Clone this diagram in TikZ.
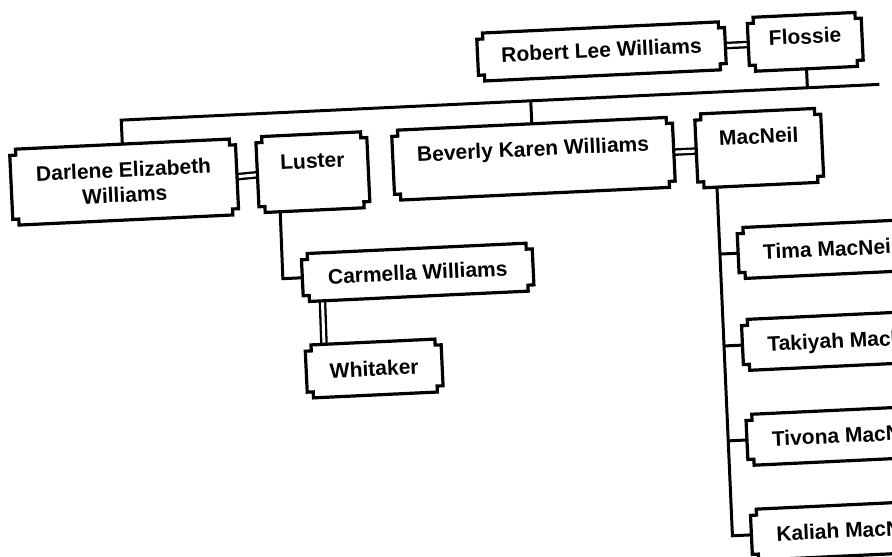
\documentclass[tikz,border=0pt]{standalone}
\usepackage{fontspec}
\setmainfont{Liberation Sans}
\usetikzlibrary{calc}
\pgfdeclarelayer{back}
\pgfsetlayers{back,main}
\newdimen\nbL \newdimen\nbR \newdimen\nbT \newdimen\nbB \newdimen\nbN
\makeatletter
\pgfdeclareshape{notchbox}{%
  \inheritsavedanchors[from=rectangle]%
  \inheritanchorborder[from=rectangle]%
  \inheritanchor[from=rectangle]{center}%
  \inheritanchor[from=rectangle]{north}%
  \inheritanchor[from=rectangle]{south}%
  \inheritanchor[from=rectangle]{east}%
  \inheritanchor[from=rectangle]{west}%
  \inheritanchor[from=rectangle]{north east}%
  \inheritanchor[from=rectangle]{north west}%
  \inheritanchor[from=rectangle]{south east}%
  \inheritanchor[from=rectangle]{south west}%
  \inheritanchor[from=rectangle]{base}%
  \inheritanchor[from=rectangle]{mid}%
  \inheritanchor[from=rectangle]{text}%
  \backgroundpath{%
    \southwest \nbL=\pgf@x \nbB=\pgf@y
    \northeast \nbR=\pgf@x \nbT=\pgf@y
    \nbN=6pt
    \pgfpathmoveto{\pgfqpoint{\dimexpr\nbL+\nbN\relax}{\nbT}}%
    \pgfpathlineto{\pgfqpoint{\dimexpr\nbR-\nbN\relax}{\nbT}}%
    \pgfpathlineto{\pgfqpoint{\dimexpr\nbR-\nbN\relax}{\dimexpr\nbT-\nbN\relax}}%
    \pgfpathlineto{\pgfqpoint{\nbR}{\dimexpr\nbT-\nbN\relax}}%
    \pgfpathlineto{\pgfqpoint{\nbR}{\dimexpr\nbB+\nbN\relax}}%
    \pgfpathlineto{\pgfqpoint{\dimexpr\nbR-\nbN\relax}{\dimexpr\nbB+\nbN\relax}}%
    \pgfpathlineto{\pgfqpoint{\dimexpr\nbR-\nbN\relax}{\nbB}}%
    \pgfpathlineto{\pgfqpoint{\dimexpr\nbL+\nbN\relax}{\nbB}}%
    \pgfpathlineto{\pgfqpoint{\dimexpr\nbL+\nbN\relax}{\dimexpr\nbB+\nbN\relax}}%
    \pgfpathlineto{\pgfqpoint{\nbL}{\dimexpr\nbB+\nbN\relax}}%
    \pgfpathlineto{\pgfqpoint{\nbL}{\dimexpr\nbT-\nbN\relax}}%
    \pgfpathlineto{\pgfqpoint{\dimexpr\nbL+\nbN\relax}{\dimexpr\nbT-\nbN\relax}}%
    \pgfpathclose
  }%
}
\makeatother
\begin{document}
\begin{tikzpicture}[x=1pt,y=-1pt,
  box/.style={shape=notchbox, draw=black, line width=3.2pt, fill=white,
    font=\bfseries\fontsize{21}{25}\selectfont, outer sep=0pt,
    inner xsep=0pt, inner ysep=0pt, align=center},
  one/.style={text height=15pt, text depth=#1},
  kid/.style={box, one=0pt, anchor=west, inner xsep=25pt, minimum height=51pt},
  link/.style={line width=3pt},
  wed/.style={line width=2.3pt, double=white, double distance=3pt}
]
\useasboundingbox (0,0) rectangle (892,557);
\begin{pgfonlayer}{back}
  \fill[white] (0,0) rectangle (892,557);
\end{pgfonlayer}
\clip (0,0) rectangle (892,557);
\begin{scope}[rotate around={2.7:(446,278)}, transform shape]
  % boxes
  \node[box, one=3pt, minimum width=248pt, minimum height=48pt] (robert) at (612,59) {Robert Lee Williams};
  \node[box, one=11pt, minimum width=114pt, minimum height=54pt] (flossie) at (816,59) {Flossie};
  \node[box, minimum width=226pt, minimum height=76pt] (darlene) at (129,167) {Darlene Elizabeth\\Williams};
  \node[box, one=23pt, minimum width=111pt, minimum height=76pt] (luster) at (318,166) {Luster};
  \node[box, one=20pt, minimum width=281pt, minimum height=70pt] (beverly) at (539,163) {Beverly Karen Williams};
  \node[box, one=24pt, minimum width=126pt, minimum height=74pt] (macneil) at (765,163) {MacNeil};
  \node[box, one=0pt, minimum width=231pt, minimum height=48pt] (carmella) at (418,271) {Carmella Williams};
  \node[box, one=0pt, minimum width=136pt, minimum height=53pt] (whitaker) at (370,365) {Whitaker};
  \node[kid] (tima) at (739,267) {Tima MacNeil};
  \node[kid] (takiyah) at (739,359) {Takiyah MacNeil};
  \node[kid] (tivona) at (739,454) {Tivona MacNeil};
  \node[kid] (kaliah) at (739,549) {Kaliah MacNeil};
  % junction points
  \coordinate (hl) at (129,105);
  \coordinate (hr) at (888,105);
  \coordinate (hf) at (816,105);
  \coordinate (hb) at (539,105);
  \coordinate (lc) at (283,271);
  \coordinate (k1) at (720,267);
  \coordinate (k2) at (720,359);
  \coordinate (k3) at (720,454);
  \coordinate (k4) at (720,549);
  \begin{pgfonlayer}{back}
    \draw[link] (darlene.north) -- (hl) -- (hr);
    \draw[link] (flossie.south) -- (hf);
    \draw[link] (beverly.north) -- (hb);
    \draw[wed] (robert.east) -- (flossie.west);
    \draw[wed] (darlene.east) -- (luster.west);
    \draw[wed] (beverly.east) -- (macneil.west);
    \draw[link] ($(luster.south west)!21pt!(luster.south east)$) -- (lc) -- (carmella.west);
    \draw[wed] ($(carmella.south west)!19pt!(carmella.south east)$) -- ($(whitaker.north west)!19pt!(whitaker.north east)$);
    \draw[link] ($(macneil.south west)!19pt!(macneil.south east)$) -- (k4) -- (kaliah.west);
    \draw[link] (k1) -- (tima.west);
    \draw[link] (k2) -- (takiyah.west);
    \draw[link] (k3) -- (tivona.west);
  \end{pgfonlayer}
\end{scope}
\end{tikzpicture}
\end{document}
